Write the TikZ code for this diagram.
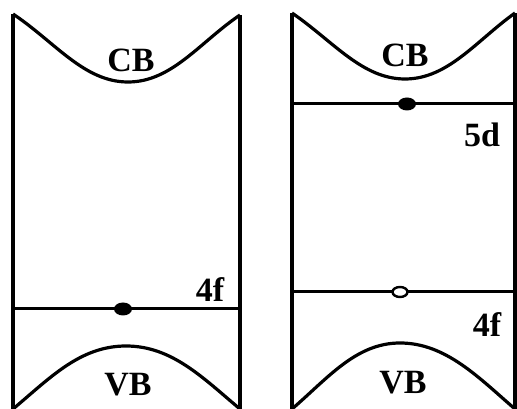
\documentclass[tikz,border=0pt]{standalone}
\usepackage{fontspec}
\setmainfont{Liberation Serif}

\tikzset{
  band/.style={line width=3.2pt},
  level/.style={line width=3pt},
  lbl/.style={font=\bfseries\fontsize{34}{40}\selectfont, inner sep=0pt}
}

\begin{document}
\begin{tikzpicture}[x=1pt,y=1pt]
  \useasboundingbox (0,0) rectangle (517,409);
  % left panel
  \draw[band] (13,0) -- (13,395);
  \draw[band] (240,0) -- (240,394);
  \draw[band] (13,395) .. controls (55,367) and (84,327) .. (128,327)
              .. controls (172,327) and (200,367) .. (240,394);
  \draw[band] (13,0) .. controls (50,31) and (80,63) .. (126,63)
              .. controls (172,63) and (203,31) .. (240,0);
  \draw[level] (13,100) -- (240,100);
  \fill (123,100) ellipse (9pt and 6.5pt);
  \node[lbl] (cbL) at (131,349) {CB};
  \node[lbl] (fL) at (210,119) {4f};
  \node[lbl] (vbL) at (128,24) {VB};
  % right panel
  \draw[band] (292,0) -- (292,396);
  \draw[band] (515,0) -- (515,396);
  \draw[band] (292,396) .. controls (333,368) and (362,330) .. (405,330)
              .. controls (448,330) and (476,368) .. (515,396);
  \draw[band] (292,0) .. controls (328,31) and (356,66) .. (400,66)
              .. controls (446,66) and (479,31) .. (515,0);
  \draw[level] (292,305) -- (515,305);
  \fill (407,305) ellipse (9pt and 6.5pt);
  \draw[level] (292,117) -- (515,117);
  \draw[line width=2.4pt, fill=white] (400,117) ellipse (7.5pt and 5pt);
  \node[lbl] (cbR) at (405,354) {CB};
  \node[lbl] (dR) at (482,274) {5d};
  \node[lbl] (fR) at (487,84) {4f};
  \node[lbl] (vbR) at (403,26) {VB};
\end{tikzpicture}
\end{document}
